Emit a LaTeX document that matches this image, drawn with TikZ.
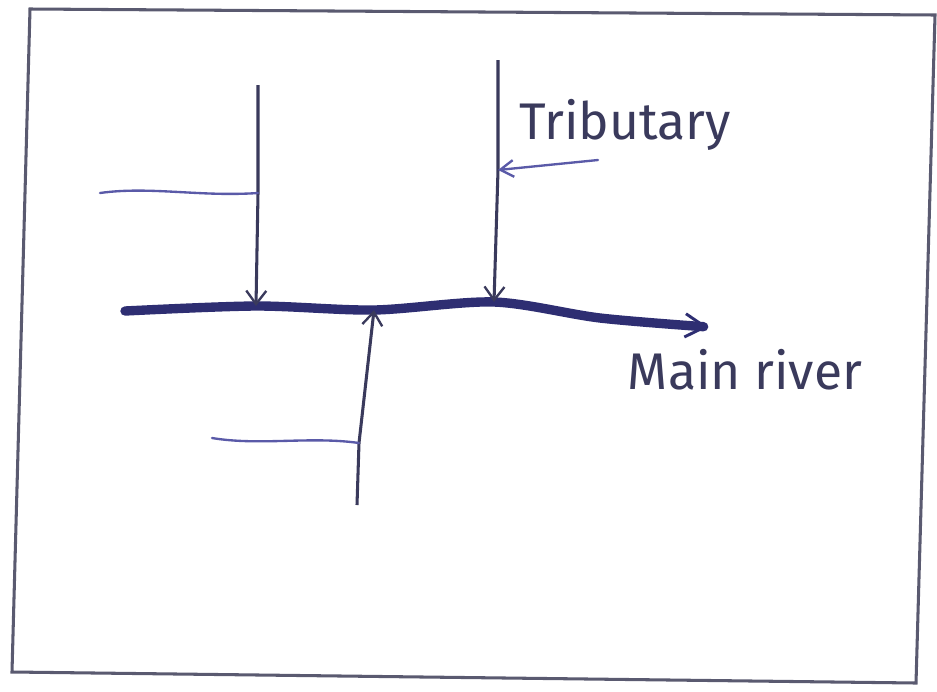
\documentclass[tikz,border=0pt]{standalone}
\usepackage{fontspec}
\setmainfont{Fira Sans}
\usetikzlibrary{arrows.meta,positioning}
\definecolor{river}{HTML}{2E2E72}
\definecolor{stream}{HTML}{3A3A5C}
\definecolor{feedblue}{HTML}{5A5AA8}
\definecolor{frameline}{HTML}{5A5A70}
\tikzset{
  mainriver/.style={-{Straight Barb[length=6mm,width=7mm,line width=2.5pt]}, line width=8pt, draw=river, line cap=round},
  tribline/.style={-{Straight Barb[length=4mm,width=6mm,line width=2pt]}, line width=2.6pt, draw=stream},
  feeder/.style={line width=2pt, draw=feedblue, line cap=round},
  feedarr/.style={feeder, -{Straight Barb[length=4mm,width=5mm,line width=2pt]}},
  handtext/.style={text=stream, font=\fontsize{44}{48}\selectfont}
}

\begin{document}
\begin{tikzpicture}[x=0.03cm, y=-0.03cm]
    \useasboundingbox[fill=white] (0,0) rectangle (937,691);
    % sheet border
    \draw[frameline, line width=2.6pt] (30,9) -- (935,15) -- (916,683) -- (12,672) -- cycle;

    % junctions on the main river
    \coordinate (src) at (125,311);
    \coordinate (j1) at (256,306);
    \coordinate (j3) at (374,310);
    \coordinate (j2) at (494,302);
    \coordinate (mouth) at (708,327);

    % tributary ends and side streams
    \coordinate (t1) at (258,85);
    \coordinate (k1) at (258,193);
    \coordinate (b1) at (100,193);
    \coordinate (t2) at (498,60);
    \coordinate (k2) at (498,170);
    \coordinate (b2) at (598,160);
    \coordinate (t3) at (357,505);
    \coordinate (k3) at (359,443);
    \coordinate (b3) at (212,438);

    \draw[mainriver] plot[smooth, tension=0.5] coordinates {(src) (j1) (j3) (j2) (600,318) (mouth)};

    \draw[tribline] (t1) -- (k1) -- (j1);
    \draw[tribline] (t2) -- (k2) -- (j2);
    \draw[tribline] (t3) -- (k3) -- (j3);

    \draw[feeder] (b1) .. controls (150,186) and (200,197) .. (k1);
    \draw[feedarr] (b2) -- (k2);
    \draw[feeder] (b3) .. controls (260,446) and (310,436) .. (k3);

    \node[handtext] (tribname) at (625,125) {Tributary};
    \node[handtext] (rivername) at (745,370) {Main river};
  \end{tikzpicture}
\end{document}
